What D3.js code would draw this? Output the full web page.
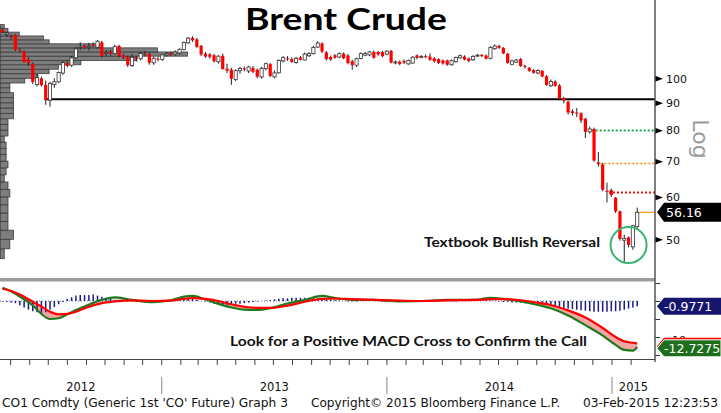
<!DOCTYPE html>
<html>
<head>
<meta charset="utf-8">
<title>Brent Crude</title>
<script src="https://cdn.jsdelivr.net/npm/d3@7/dist/d3.min.js"></script>
<style>
  body { margin: 0; background: #fff; }
  svg { display: block; }
  .tick-lbl { font-family: "DejaVu Sans", sans-serif; font-size: 11px; fill: #111; }
  .note { font-family: Lato, sans-serif; font-weight: 700; font-size: 13px; fill: #111; }
  .foot { font-family: "DejaVu Sans", sans-serif; font-size: 11.5px; fill: #111; }
</style>
</head>
<body>
<svg id="chart" width="721" height="413"></svg>
<script>
// weekly bars, Friday dated, 13-Apr-2012 .. 06-Feb-2015
var weeks = d3.timeFriday.range(new Date(2012, 3, 13), new Date(2015, 1, 7));

// [open, high, low, close]
var candles = [
  [123.4,123.8,121.5,121.9],[120.8,122.2,119.5,121.5],[119.6,120.8,118.2,119.3],[120.6,121.0,112.5,113.1],
  [113.0,114.0,111.8,112.6],[112.2,112.8,107.0,107.3],[108.5,109.5,105.5,106.8],[106.5,107.0,97.5,98.4],
  [97.3,101.8,96.5,100.3],[100.0,100.8,96.5,97.1],[97.2,99.0,89.2,91.0],[91.0,98.5,88.5,97.8],
  [97.3,100.0,96.0,98.5],[98.5,103.0,98.0,102.5],[102.3,107.8,101.5,107.0],[106.8,108.0,104.8,105.5],
  [105.8,110.0,105.0,109.2],[109.2,114.5,108.8,113.5],[113.8,116.8,113.0,114.2],[115.0,115.5,113.5,114.2],
  [114.3,116.5,112.8,114.8],[115.8,116.8,114.5,115.2],[114.3,117.9,113.5,117.3],[116.8,117.5,109.3,110.0],
  [111.3,113.0,110.0,111.8],[112.2,113.0,110.2,111.2],[111.3,115.5,110.8,114.6],[115.0,115.5,109.5,110.2],
  [110.5,111.0,108.5,109.3],[109.6,110.2,105.0,105.8],[105.6,111.0,105.0,109.5],[109.5,110.2,107.5,108.9],
  [108.8,112.0,108.0,111.3],[111.3,112.5,109.8,110.9],[111.0,111.7,106.0,106.9],[106.9,109.8,106.0,109.0],
  [108.8,109.8,107.5,108.5],[108.5,111.0,107.8,110.6],[110.6,112.0,109.8,111.3],[111.5,112.2,110.0,110.8],
  [111.0,112.8,110.2,111.9],[111.5,113.8,110.8,113.3],[113.2,117.2,112.8,116.6],[116.5,119.5,116.0,118.9],
  [119.0,119.8,117.0,117.8],[118.2,119.0,114.0,114.5],[115.0,115.5,110.0,110.8],[111.2,112.0,109.2,109.8],
  [110.8,111.5,108.8,109.7],[110.4,111.0,107.0,107.6],[107.4,110.5,106.5,110.0],[110.2,111.2,103.8,104.1],
  [104.2,106.5,102.3,103.3],[103.8,104.6,97.2,99.8],[99.5,104.0,98.8,103.3],[103.3,105.0,102.0,104.3],
  [104.4,105.2,103.0,103.9],[103.2,105.5,102.3,105.0],[104.6,105.5,102.2,102.8],[103.8,104.2,100.0,100.7],
  [100.6,105.0,99.8,104.4],[104.2,107.0,103.5,106.5],[106.3,106.8,100.5,101.0],[100.6,103.5,100.0,102.4],
  [102.4,108.5,102.0,108.0],[107.8,110.0,107.0,109.3],[109.0,110.0,107.8,108.5],[108.6,109.5,106.8,107.3],
  [107.0,109.6,106.5,109.0],[109.4,110.0,108.0,108.3],[108.2,111.8,108.0,111.0],[110.2,112.0,109.6,111.2],
  [111.2,115.0,110.8,114.2],[114.4,117.3,114.0,116.4],[116.2,116.8,111.5,112.2],[111.8,112.5,108.0,108.6],
  [109.6,110.3,107.8,108.4],[110.4,111.0,108.8,109.3],[109.6,111.8,109.0,111.2],[111.2,111.8,108.6,109.0],
  [110.3,111.0,106.2,106.8],[107.6,108.3,103.8,105.8],[105.8,109.3,105.0,108.8],[108.9,111.8,108.5,111.2],
  [110.5,112.0,110.0,111.2],[110.6,112.5,110.0,112.0],[112.0,112.7,108.8,109.2],[112.0,112.5,110.2,110.8],
  [112.0,112.6,109.5,110.0],[111.0,112.8,110.5,112.4],[112.5,113.0,106.6,107.0],[107.2,108.0,106.2,107.3],
  [107.4,108.0,105.8,106.4],[107.8,108.4,106.3,107.0],[106.4,108.4,106.0,107.9],[106.8,110.0,106.5,109.5],
  [110.4,110.8,108.5,109.2],[109.6,110.5,109.0,109.9],[110.0,110.8,109.0,109.6],[109.8,111.3,107.8,108.3],
  [109.0,109.5,107.0,107.6],[108.6,109.0,106.3,106.8],[108.0,108.5,106.0,106.6],[108.0,108.4,105.5,106.0],
  [106.0,108.5,105.6,107.9],[107.4,109.8,107.0,109.4],[109.2,110.8,108.8,110.2],[109.8,110.4,108.0,108.4],
  [108.9,109.4,107.2,107.7],[108.3,110.5,107.8,109.9],[110.2,111.0,109.6,110.5],[110.6,111.0,109.5,110.0],
  [110.3,110.8,108.4,108.8],[109.0,114.8,108.5,114.2],[113.6,115.7,113.0,114.9],[115.0,115.6,113.5,114.0],
  [114.0,114.4,111.0,111.3],[111.2,111.6,106.5,106.8],[106.2,108.3,105.8,107.8],[107.2,108.7,106.8,108.2],
  [108.6,109.2,105.0,105.4],[105.5,106.0,104.2,105.1],[104.6,105.0,102.8,103.2],[103.6,104.0,102.0,102.4],
  [102.3,104.0,101.8,103.4],[103.3,103.6,100.4,100.8],[100.9,101.4,96.8,97.2],[96.8,99.5,96.3,98.6],
  [98.6,99.2,96.4,96.8],[97.0,97.5,91.0,91.6],[91.8,92.4,89.8,90.8],[90.4,90.8,85.6,86.3],
  [86.8,87.6,85.2,86.1],[86.3,88.0,84.6,85.9],[86.0,86.4,82.5,83.4],[84.0,84.4,77.3,79.4],
  [79.4,81.2,78.8,80.4],[80.4,80.9,69.8,70.2],[69.6,72.8,68.4,69.1],[69.0,69.5,61.5,61.9],
  [61.6,63.8,58.6,61.4],[61.8,62.2,60.0,60.5],[59.8,60.0,56.0,56.4],[56.4,56.6,49.7,50.1],
  [49.8,51.0,45.2,50.2],[50.4,50.6,48.3,48.8],[48.4,53.1,47.8,53.0],[52.8,57.3,52.3,56.16]
];

// volume-at-price profile, $2 bins (lower edge), relative volume
var profileLow = [46,48,50,52,54,56,58,60,62,64,66,68,70,72,74,76,78,80,82,84,
                  86,88,90,92,94,96,98,100,102,104,106,108,110,112,114,116,118,120,122,124];
var profileVol = [2,5,7,4,4,4,4,5,4,2,3,4,3,3,3,2,4,4,4,7,
                  7,7,7,7,5,5,13,20,26,31,43,73,100,84,53,26,23,10,4,2];

var priceTicks = [50, 60, 70, 80, 90, 100];
var supportLevel = 91.4, supportFrom = 10;
var levelPrices = [80, 69.3, 61.3];
var levelFrom = [136, 138, 140];
var lastPrice = 56.16;

// MACD panel, sampled at week indices
var macdWeek   = [0,2,4,7,9,11,13,15,17,19,23,26,30,35,39,42,44,47,50,53,56,59,62,66,70,74,77,81,86,92,97,103,110,113,116,120,124,127,131,135,139,142,144,146,147];
var macdLine   = [3.7,2.7,1.2,-1.2,-3.6,-5.0,-4.8,-3.7,-2.5,-1.5,0.3,1.0,0.3,-0.3,0.2,1.2,1.4,0.4,-0.8,-1.8,-2.4,-2.5,-2.0,-0.7,0.3,1.4,0.8,0.3,0.3,-0.1,0.0,0.3,0.4,0.9,0.6,-0.1,-1.1,-2.0,-4.0,-6.7,-9.6,-12.2,-13.6,-13.8,-12.7275];
var signalLine = [3.4,2.8,1.8,-0.2,-1.5,-3.0,-3.7,-3.6,-3.0,-2.0,-0.6,-0.1,0.2,0.0,0.1,0.6,0.8,0.6,0.0,-0.9,-1.6,-1.9,-1.9,-1.3,-0.2,0.6,0.7,0.5,0.3,0.1,0.0,0.2,0.3,0.5,0.5,0.2,-0.5,-1.1,-2.6,-4.6,-7.5,-10.0,-11.2,-11.6,-11.75];
var histogram = [
  -0.1,-0.2,-0.3,-0.4,-0.8,-1.2,-1.6,-1.9,-2.1,-2.3,
  -2.1,-1.6,-1.1,-0.6,-0.2,0.4,0.7,1.0,1.1,1.1,
  1.1,1.2,1.0,0.8,0.6,0.4,0.2,0.1,0.0,-0.1,
  -0.1,-0.2,-0.2,-0.1,0.0,0.1,0.1,0.2,0.2,0.3,
  0.4,0.5,0.5,0.5,0.4,0.2,0.0,-0.1,-0.3,-0.5,
  -0.6,-0.7,-0.7,-0.6,-0.5,-0.5,-0.4,-0.3,-0.2,-0.1,
  0.0,0.1,0.2,0.3,0.4,0.5,0.5,0.6,0.6,0.6,
  0.6,0.6,0.5,0.5,0.5,0.4,0.3,0.2,0.1,0.0,
  -0.1,-0.1,-0.1,0.0,0.0,0.1,0.1,0.0,-0.1,-0.1,
  -0.1,0.0,0.0,0.0,0.1,0.0,-0.1,-0.1,0.0,0.0,
  0.1,0.1,0.1,0.0,0.0,-0.1,0.0,0.1,0.2,0.2,
  0.3,0.3,0.2,0.1,0.0,-0.1,-0.2,-0.2,-0.3,-0.3,
  -0.3,-0.4,-0.4,-0.5,-0.5,-0.5,-0.6,-0.7,-0.9,-1.1,
  -1.3,-1.4,-1.5,-1.6,-1.7,-1.8,-1.9,-2.0,-2.0,-2.0,
  -2.0,-1.9,-1.9,-1.8,-1.6,-1.4,-1.2,-0.9771
];
var histLast = -0.9771, macdLast = -12.7275, signalLast = -11.75;
var macdTicks = [5, 0, -5, -10, -15];
var yearLabels = ["2012", "2013", "2014", "2015"];

var svg = d3.select("#chart");
var axisX = 655;

var x = d3.scaleTime().domain([new Date(2012, 0, 1), new Date(2015, 0, 1)]).range([-64, 612]);
var candleShift = 3;
function xc(i) { return x(weeks[i]) + candleShift; }
var y = d3.scaleLog().domain([50, 100]).range([239.3, 78.3]);
var yMacd = d3.scaleLinear().domain([0, -10]).range([301, 337]);
var yHist = d3.scaleLinear().domain([0, -1]).range([301, 306.4]);
var xVol = d3.scaleLinear().domain([0, 100]).range([0, 187]);

// ---- volume profile
svg.append("g").selectAll("rect")
  .data(profileLow)
  .enter().append("rect")
    .attr("x", 0.5)
    .attr("y", function(d) { return y(d + 2); })
    .attr("width", function(d, k) { return xVol(profileVol[k]); })
    .attr("height", function(d) { return y(d) - y(d + 2); })
    .attr("fill", "#7d7d7d")
    .attr("stroke", "#3c3c3c")
    .attr("stroke-width", 0.8);

// ---- support + level lines
svg.append("line")
  .attr("x1", xc(supportFrom)).attr("x2", axisX)
  .attr("y1", y(supportLevel)).attr("y2", y(supportLevel))
  .attr("stroke", "#000").attr("stroke-width", 2);

var levelColor = ["#1aa64a", "#ff8c00", "#ee1111"];
var levelWidth = [2, 1.6, 2];
levelPrices.forEach(function(p, k) {
  var yy = Math.round(y(p)) + 0.5;
  svg.append("line")
    .attr("x1", xc(levelFrom[k]) + 2).attr("x2", axisX)
    .attr("y1", yy).attr("y2", yy)
    .attr("stroke", levelColor[k]).attr("stroke-width", levelWidth[k])
    .attr("stroke-dasharray", "2,2");
});
svg.append("line")
  .attr("x1", xc(candles.length - 1)).attr("x2", axisX)
  .attr("y1", y(lastPrice)).attr("y2", y(lastPrice))
  .attr("stroke", "#ff9a1a").attr("stroke-width", 1.2);

// ---- candles
var cg = svg.append("g");
cg.selectAll("line.wick")
  .data(candles)
  .enter().append("line")
    .attr("class", "wick")
    .attr("x1", function(d, i) { return xc(i); })
    .attr("x2", function(d, i) { return xc(i); })
    .attr("y1", function(d) { return y(d[1]); })
    .attr("y2", function(d) { return y(d[2]); })
    .attr("stroke", "#222").attr("stroke-width", 1);
cg.selectAll("rect.body")
  .data(candles)
  .enter().append("rect")
    .attr("class", "body")
    .attr("x", function(d, i) { return xc(i) - 1.6; })
    .attr("width", 3.2)
    .attr("y", function(d) { return y(Math.max(d[0], d[3])); })
    .attr("height", function(d) { return Math.max(1, Math.abs(y(d[0]) - y(d[3]))); })
    .attr("fill", function(d) { return d[3] < d[0] ? "#ff0000" : "#ffffff"; })
    .attr("stroke", function(d) { return d[3] < d[0] ? "none" : "#333"; })
    .attr("stroke-width", 0.8);

// ---- annotations
svg.append("circle")
  .attr("cx", xc(145)).attr("cy", y(48.8))
  .attr("r", 18)
  .attr("fill", "none").attr("stroke", "#3cb371").attr("stroke-width", 2);

svg.append("text").attr("class", "note")
  .attr("x", 600).attr("y", 247).attr("text-anchor", "end")
  .attr("textLength", 176).attr("lengthAdjust", "spacingAndGlyphs")
  .text("Textbook Bullish Reversal");

svg.append("text")
  .attr("x", 245).attr("y", 29.5)
  .attr("textLength", 202).attr("lengthAdjust", "spacingAndGlyphs")
  .style("font-family", "Lato, sans-serif").style("font-weight", 700)
  .style("font-size", "30px").style("fill", "#000")
  .text("Brent Crude");

// ---- price axis
var ya = svg.append("g").attr("transform", "translate(" + axisX + ",0)")
  .call(d3.axisRight(y).tickValues(priceTicks).tickSize(0).tickPadding(11).tickFormat(d3.format("d")));
ya.select(".domain").remove();
ya.selectAll("text").attr("class", "tick-lbl").attr("dy", "0.34em");
ya.selectAll(".tick").append("path")
  .attr("d", "M0,-3 L8,0 L0,3 Z").attr("fill", "#000");

svg.append("text")
  .attr("transform", "translate(701,139) rotate(90)")
  .attr("text-anchor", "middle").attr("dy", "0.35em")
  .style("font-family", "'DejaVu Sans', sans-serif").style("font-size", "22px").style("fill", "#9a9a9a")
  .text("Log");

// last price tag
svg.append("path")
  .attr("d", "M657," + y(lastPrice) + " L664," + (y(lastPrice) - 9.5) + " L721," + (y(lastPrice) - 9.5) +
             " L721," + (y(lastPrice) + 9.5) + " L664," + (y(lastPrice) + 9.5) + " Z")
  .attr("fill", "#000");
svg.append("text")
  .attr("x", 666).attr("y", y(lastPrice)).attr("dy", "0.36em")
  .style("font-family", "'DejaVu Sans', sans-serif").style("font-size", "12.5px").style("fill", "#fff")
  .text(lastPrice.toFixed(2));

// ---- panel separator
svg.append("rect").attr("x", 0).attr("y", 278).attr("width", axisX).attr("height", 3.5).attr("fill", "#9c9c9c");

// ---- MACD panel
var pts = macdWeek.map(function(w, k) { return {i: w, m: macdLine[k], s: signalLine[k]}; });
var curve = d3.curveMonotoneX;
var defs = svg.append("defs");
defs.append("clipPath").attr("id", "belowSig").append("path")
  .attr("d", d3.area().x(function(d) { return xc(d.i); }).y0(365).y1(function(d) { return yMacd(d.s); }).curve(curve)(pts));
defs.append("clipPath").attr("id", "aboveSig").append("path")
  .attr("d", d3.area().x(function(d) { return xc(d.i); }).y0(280).y1(function(d) { return yMacd(d.s); }).curve(curve)(pts));
var between = d3.area().x(function(d) { return xc(d.i); })
  .y0(function(d) { return yMacd(d.m); }).y1(function(d) { return yMacd(d.s); }).curve(curve);
svg.append("path").attr("d", between(pts)).attr("fill", "#f5a5a5").attr("clip-path", "url(#belowSig)");
svg.append("path").attr("d", between(pts)).attr("fill", "#dddddd").attr("clip-path", "url(#aboveSig)");

svg.append("line")
  .attr("x1", 0).attr("x2", xc(candles.length - 1))
  .attr("y1", yHist(0)).attr("y2", yHist(0))
  .attr("stroke", "#7070a0").attr("stroke-width", 1).attr("stroke-dasharray", "1,2");

svg.append("g").selectAll("line")
  .data(histogram)
  .enter().append("line")
    .attr("x1", function(d, i) { return xc(i); })
    .attr("x2", function(d, i) { return xc(i); })
    .attr("y1", yHist(0))
    .attr("y2", function(d) { return yHist(d); })
    .attr("stroke", "#1c1c80").attr("stroke-width", 1.5);

var lineM = d3.line().x(function(d) { return xc(d.i); }).y(function(d) { return yMacd(d.m); }).curve(curve);
var lineS = d3.line().x(function(d) { return xc(d.i); }).y(function(d) { return yMacd(d.s); }).curve(curve);
svg.append("path").attr("d", lineM(pts)).attr("fill", "none").attr("stroke", "#1d7a1d").attr("stroke-width", 2.2);
svg.append("path").attr("d", lineS(pts)).attr("fill", "none").attr("stroke", "#ff0000").attr("stroke-width", 2.2);

svg.append("text").attr("class", "note")
  .attr("x", 230).attr("y", 346)
  .attr("textLength", 357).attr("lengthAdjust", "spacingAndGlyphs")
  .text("Look for a Positive MACD Cross to Confirm the Call");

// MACD axis
var ma = svg.append("g").attr("transform", "translate(" + axisX + ",0)")
  .call(d3.axisRight(yMacd).tickValues(macdTicks).tickSize(5).tickPadding(8)
    .tickFormat(function(d) { return d === -10 ? "-10" : ""; }));
ma.select(".domain").remove();
ma.selectAll("line").attr("stroke", "#333");
ma.selectAll("text").attr("class", "tick-lbl").attr("dy", "0.62em");

function tag(val, yy, fill, txt, stroke) {
  svg.append("path")
    .attr("d", "M657," + yy + " L664," + (yy - 8.5) + " L721," + (yy - 8.5) +
               " L721," + (yy + 8.5) + " L664," + (yy + 8.5) + " Z")
    .attr("fill", fill).attr("stroke", stroke || "none").attr("stroke-width", 1);
  if (txt) {
    svg.append("text")
      .attr("x", 664).attr("y", yy).attr("dy", "0.36em")
      .style("font-family", "'DejaVu Sans', sans-serif").style("font-size", "12.5px").style("fill", "#fff")
      .text(txt);
  }
}
tag(histLast, yHist(histLast), "#16166e", histLast.toFixed(4));
tag(signalLast, yMacd(signalLast) + 3, "#ff0000", null);
tag(macdLast, yMacd(macdLast) + 1.5, "#1e6e1e", macdLast.toFixed(4), "#ffffff");

// ---- vertical axis line
svg.append("line")
  .attr("x1", axisX).attr("x2", axisX).attr("y1", 0).attr("y2", 362)
  .attr("stroke", "#555").attr("stroke-width", 1.5);

// ---- time axis
svg.append("line")
  .attr("x1", 0).attr("x2", axisX).attr("y1", 359.5).attr("y2", 359.5)
  .attr("stroke", "#444").attr("stroke-width", 1.2);
var months = d3.timeMonth.range(new Date(2012, 4, 1), new Date(2015, 1, 2));
svg.append("g").selectAll("line")
  .data(months)
  .enter().append("line")
    .attr("x1", function(d) { return x(d); }).attr("x2", function(d) { return x(d); })
    .attr("y1", 359.5).attr("y2", 365)
    .attr("stroke", "#444");

var yearStarts = d3.timeYear.range(new Date(2013, 0, 1), new Date(2015, 0, 2));
svg.append("g").selectAll("line")
  .data(yearStarts)
  .enter().append("line")
    .attr("x1", function(d) { return x(d); }).attr("x2", function(d) { return x(d); })
    .attr("y1", 377).attr("y2", 394)
    .attr("stroke", "#888");

yearLabels.forEach(function(lbl, k) {
  var a = Math.max(0, x(new Date(2012 + k, 0, 1)));
  var b = Math.min(axisX, x(new Date(2013 + k, 0, 1)));
  svg.append("text").attr("class", "foot")
    .attr("x", (a + b) / 2).attr("y", 391).attr("text-anchor", "middle")
    .text(lbl);
});

// ---- footer
svg.append("text").attr("class", "foot").attr("x", 2).attr("y", 406.5)
  .attr("textLength", 286).attr("lengthAdjust", "spacingAndGlyphs")
  .text("CO1 Comdty (Generic 1st 'CO' Future) Graph 3");
svg.append("text").attr("class", "foot").attr("x", 311).attr("y", 406.5)
  .attr("textLength", 249).attr("lengthAdjust", "spacingAndGlyphs")
  .text("Copyright\u00a9 2015 Bloomberg Finance L.P.");
svg.append("text").attr("class", "foot").attr("x", 583).attr("y", 406.5)
  .attr("textLength", 135).attr("lengthAdjust", "spacingAndGlyphs")
  .text("03-Feb-2015 12:23:53");
</script>
</body>
</html>
